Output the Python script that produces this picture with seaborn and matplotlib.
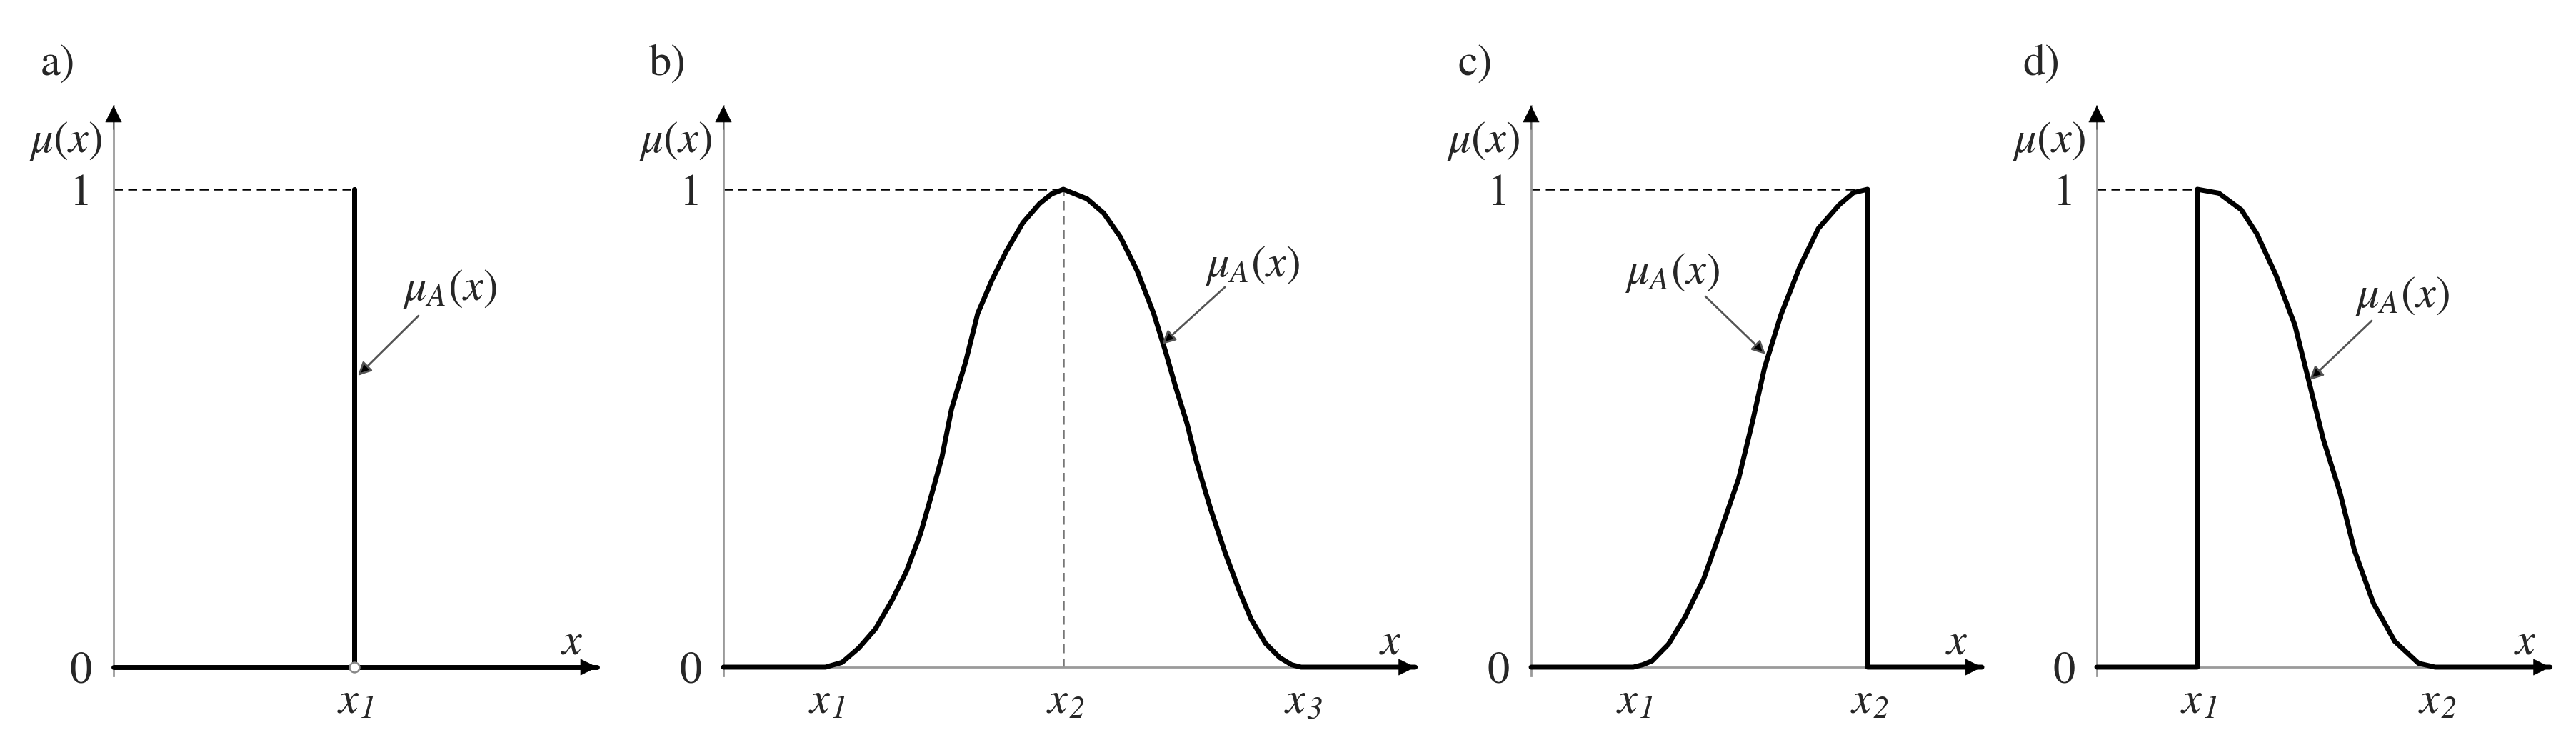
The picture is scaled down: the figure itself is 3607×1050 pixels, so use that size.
import numpy as np
import matplotlib.pyplot as plt
import seaborn as sns

# membership values (x in units of x1, x2, x3)
a_x = [1.0]
a_y = [1.0]

b_x = [1.00, 1.07, 1.14, 1.21, 1.28, 1.34, 1.40, 1.44, 1.49, 1.53, 1.59, 1.64, 1.70, 1.76, 1.83, 1.90, 1.95,
       2.00, 2.05, 2.10, 2.17, 2.24, 2.31, 2.38, 2.43, 2.47, 2.52, 2.56, 2.62, 2.68, 2.74, 2.79, 2.85, 2.91, 2.96, 3.00]
b_y = [0.00, 0.01, 0.04, 0.08, 0.14, 0.20, 0.28, 0.35, 0.44, 0.54, 0.64, 0.74, 0.81, 0.87, 0.93, 0.97, 0.99,
       1.00, 0.99, 0.98, 0.95, 0.90, 0.83, 0.74, 0.66, 0.59, 0.51, 0.43, 0.33, 0.24, 0.16, 0.10, 0.05, 0.02, 0.005, 0.00]

c_x = [1.00, 1.04, 1.08, 1.15, 1.22, 1.30, 1.38, 1.45, 1.51, 1.56, 1.63, 1.71, 1.79, 1.88, 1.94, 2.00]
c_y = [0.00, 0.005, 0.013, 0.048, 0.104, 0.184, 0.295, 0.395, 0.516, 0.626, 0.737, 0.837, 0.918, 0.968, 0.993, 1.00]

d_x = [1.00, 1.09, 1.185, 1.25, 1.33, 1.41, 1.47, 1.53, 1.60, 1.66, 1.74, 1.83, 1.93, 2.00]
d_y = [1.00, 0.992, 0.957, 0.907, 0.821, 0.716, 0.596, 0.476, 0.365, 0.245, 0.134, 0.054, 0.008, 0.00]

# tick subscripts (x1, x2, x3)
a_ticks = ['1']
b_ticks = ['1', '2', '3']
c_ticks = ['1', '2']
d_ticks = ['1', '2']

sns.set_style('white')
plt.rcParams['font.family'] = 'STIXGeneral'
plt.rcParams['mathtext.fontset'] = 'stix'

W, H = 3607, 1050
Y0, YU = 934, 669          # pixel row of mu=0, pixels per unit of mu
YBOT, YTOP = -0.018, 1.175
FS = 45
GRAY = '#9a9a9a'
PT = 0.72                  # points per pixel at dpi 100

# pixel placement of each panel: y-axis column, pixels per x unit, data value at y-axis, arrow tip
layout = {
    'a': dict(px=159, unit=337, x0=0.0, tip=2.009, label=(629, 405), arrow=((586, 442), (501, 526))),
    'b': dict(px=1013, unit=333, x0=0.571, tip=3.48, label=(1753, 372), arrow=((1715, 402), (1627, 482))),
    'c': dict(px=2144, unit=328, x0=0.564, tip=2.488, label=(2341, 382), arrow=((2388, 415), (2472, 496))),
    'd': dict(px=2936, unit=333, x0=0.577, tip=2.483, label=(3363, 415), arrow=((3321, 449), (3234, 532))),
}


def to_data(p, px, py):
    return p['x0'] + (px - p['px']) / p['unit'], (Y0 - py) / YU


def build_path(key, p):
    if key == 'a':
        xs = [p['x0'], a_x[0], a_x[0], a_x[0], p['tip']]
        ys = [0, 0, a_y[0], 0, 0]
    elif key == 'b':
        xs = [p['x0']] + b_x + [p['tip']]
        ys = [0] + b_y + [0]
    elif key == 'c':
        xs = [p['x0']] + c_x + [c_x[-1], p['tip']]
        ys = [0] + c_y + [0, 0]
    else:
        xs = [p['x0'], d_x[0]] + d_x + [p['tip']]
        ys = [0, 0] + d_y + [0]
    return xs, ys


ticks = {'a': ([1], a_ticks), 'b': ([1, 2, 3], b_ticks), 'c': ([1, 2], c_ticks), 'd': ([1, 2], d_ticks)}
peaks = {'a': (a_x, a_y), 'b': (b_x, b_y), 'c': (c_x, c_y), 'd': (d_x, d_y)}

fig = plt.figure(figsize=(W / 100, H / 100), dpi=100)

for key, p in layout.items():
    left = p['px'] / W
    width = (p['tip'] - p['x0']) * p['unit'] / W
    bottom = (H - (Y0 - YBOT * YU)) / H
    height = (YTOP - YBOT) * YU / H
    ax = fig.add_axes([left, bottom, width, height])
    ax.set_xlim(p['x0'], p['tip'])
    ax.set_ylim(YBOT, YTOP)
    ax.patch.set_alpha(0)

    for s in ['top', 'right']:
        ax.spines[s].set_visible(False)
    ax.spines['bottom'].set_position(('data', 0))
    for s in ['left', 'bottom']:
        ax.spines[s].set_color(GRAY)
        ax.spines[s].set_linewidth(2)

    tk, tl = ticks[key]
    ax.set_xticks(tk)
    ax.set_yticks([0, 1], ['0', '1'])
    ax.tick_params(axis='x', direction='out', length=10, width=1.5, color=GRAY, labelbottom=False)
    ax.tick_params(axis='y', length=0, pad=22, labelsize=FS)

    # italic x with italic subscript under each tick
    for t, sub in zip(tk, tl):
        ax.annotate('x', xy=(t, 0), xytext=(-8 * PT, -63 * PT), textcoords='offset points',
                    ha='center', va='baseline', fontsize=FS, style='italic', annotation_clip=False)
        ax.annotate(sub, xy=(t, 0), xytext=(19 * PT, -71 * PT), textcoords='offset points',
                    ha='center', va='baseline', fontsize=32, style='italic', annotation_clip=False)

    # dashed guide to the peak of the membership function
    px_, py_ = peaks[key]
    xpk = px_[int(np.argmax(py_))]
    ax.plot([p['x0'], xpk], [1, 1], ls=(0, (5, 3)), color='black', lw=1.8, zorder=2, clip_on=False)
    if key == 'b':
        ax.plot([xpk, xpk], [0, 1], ls=(0, (5, 3)), color='#777777', lw=1.8, zorder=2)

    xs, ys = build_path(key, p)
    sns.lineplot(x=xs, y=ys, ax=ax, color='black', lw=5, estimator=None, sort=False,
                 clip_on=False, zorder=3)

    if key == 'a':
        ax.plot(a_x, [0], marker='o', ms=10, mfc='white', mec='#888888', mew=1.8,
                ls='none', clip_on=False, zorder=5)

    # axis arrowheads
    ax.annotate('', xy=(p['tip'], 0), xytext=(p['tip'] - 0.05, 0),
                arrowprops=dict(arrowstyle='-|>', mutation_scale=40, fc='black', ec='black',
                                lw=0.5, shrinkA=0, shrinkB=0), annotation_clip=False)
    ax.annotate('', xy=(p['x0'], YTOP), xytext=(p['x0'], YTOP - 0.05),
                arrowprops=dict(arrowstyle='-|>', mutation_scale=40, fc='black', ec='black',
                                lw=0.5, shrinkA=0, shrinkB=0), annotation_clip=False)

    # texts
    ax.text(p['x0'] - 78 / p['unit'], (Y0 - 90) / YU, key + ')', ha='center', va='center',
            fontsize=FS, clip_on=False)
    ax.text(p['x0'] - 67 / p['unit'], (Y0 - 198) / YU, r'$\mu(x)$', ha='center', va='center',
            fontsize=FS, clip_on=False)
    ax.text(p['tip'] - 35 / p['unit'], (Y0 - 901) / YU, r'$x$', ha='center', va='center',
            fontsize=FS, clip_on=False)
    ax.text(*to_data(p, *p['label']), r'$\mu_A(x)$', ha='center', va='center', fontsize=FS,
            clip_on=False)
    (sx, sy), (ex, ey) = p['arrow']
    ax.annotate('', xy=to_data(p, ex, ey), xytext=to_data(p, sx, sy),
                arrowprops=dict(arrowstyle='-|>', mutation_scale=28, fc='black', ec='#555555',
                                lw=2, shrinkA=0, shrinkB=0), annotation_clip=False)
    ax.set_xlabel('')
    ax.set_ylabel('')

fig.savefig('out.png', dpi=100, facecolor='white')
